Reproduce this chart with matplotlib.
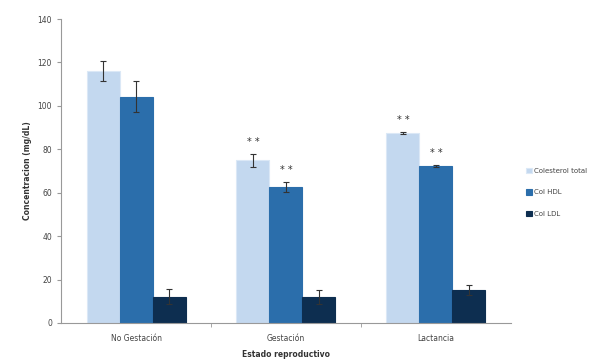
import matplotlib.pyplot as plt
import numpy as np

# Data
estados = ["No Gestación", "Gestación", "Lactancia"]
series = ["Colesterol total", "Col HDL", "Col LDL"]
col_total = [116, 75, 87.7]
col_hdl = [104.3, 62.8, 72.3]
col_ldl = [12, 12, 15.3]
err_total = [4.5, 3, 0.5]
err_hdl = [7, 2.3, 0.5]
err_ldl = [3.5, 3.3, 2.3]
# significance marks over bars (series index, group index)
marcas = [(0, 1), (1, 1), (0, 2), (1, 2)]

colores = ["#c3d8ef", "#2b6eab", "#0d2e50"]
bordes = ["#dbe8f6", "#2b6eab", "#0d2e50"]

fig = plt.figure(figsize=(6.11, 3.6), dpi=100)
ax = fig.add_axes([0.1, 0.103, 0.736, 0.844])

x = np.arange(len(estados))
w = 0.22
valores = [col_total, col_hdl, col_ldl]
errores = [err_total, err_hdl, err_ldl]
for i in range(3):
    ax.bar(x + (i - 1) * w, valores[i], w, color=colores[i], edgecolor=bordes[i],
           linewidth=0.8, label=series[i], yerr=errores[i],
           error_kw=dict(ecolor="#333333", elinewidth=0.8, capsize=2, capthick=0.8))

for (s, g) in marcas:
    top = valores[s][g] + errores[s][g]
    ax.text(x[g] + (s - 1) * w, top + 3, "* *", ha="center", va="bottom",
            fontsize=7, color="#333333")

ax.set_xlim(-0.5, 2.5)
ax.set_ylim(0, 140)
ax.set_yticks(range(0, 141, 20))
ax.set_xticks(x)
ax.set_xticklabels(estados)
ax.set_xticks([0.5, 1.5], minor=True)
ax.tick_params(axis="x", which="major", length=0, labelsize=5.5, pad=8, colors="#444444")
ax.tick_params(axis="x", which="minor", length=3, color="#999999")
ax.tick_params(axis="y", length=3, labelsize=5.5, colors="#444444", direction="out")
ax.tick_params(axis="y", color="#999999")

for side in ["top", "right"]:
    ax.spines[side].set_visible(False)
ax.spines["left"].set_color("#999999")
ax.spines["bottom"].set_color("#999999")
ax.spines["left"].set_linewidth(0.8)
ax.spines["bottom"].set_linewidth(0.8)

ax.set_ylabel("Concentracion (mg/dL)", fontsize=5.5, fontweight="bold", color="#333333")
ax.set_xlabel("Estado reproductivo", fontsize=5.5, fontweight="bold", color="#333333", labelpad=5)

leg = ax.legend(loc="center left", bbox_to_anchor=(1.02, 0.43), frameon=False,
                fontsize=5, handlelength=0.8, handleheight=0.8, labelspacing=2.2,
                handletextpad=0.4)
for t in leg.get_texts():
    t.set_color("#444444")

fig.savefig("out.png", dpi=100)
